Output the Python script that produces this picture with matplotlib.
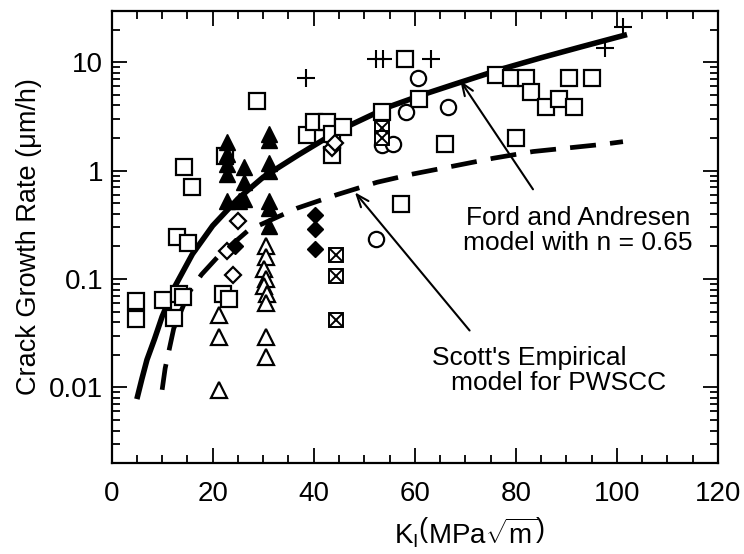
import matplotlib
matplotlib.use('Agg')
import matplotlib.pyplot as plt
from matplotlib.ticker import MultipleLocator, LogLocator, FixedLocator, NullFormatter

plt.rcParams['font.family'] = ['Liberation Sans', 'DejaVu Sans']
plt.rcParams['mathtext.fontset'] = 'custom'
plt.rcParams['mathtext.rm'] = 'Liberation Sans'
plt.rcParams['mathtext.it'] = 'Liberation Sans:italic'

# data: K_I (MPa sqrt m), crack growth rate (um/h)
sq_x = [4.9, 4.9, 10.2, 12.4, 13.3, 14.2, 13.0, 15.2, 14.4, 15.9, 22.1, 23.3, 22.5,
        28.7, 38.7, 40.1, 42.7, 43.7, 43.7, 45.7, 53.5, 57.2, 58.1, 60.8, 66.0,
        80.0, 76.0, 79.0, 82.0, 83.0, 86.0, 88.5, 91.5, 90.5, 95.1]
sq_y = [0.063, 0.043, 0.064, 0.044, 0.072, 0.068, 0.244, 0.216, 1.07, 0.71, 0.072, 0.065, 1.37,
        4.4, 2.15, 2.78, 2.79, 2.17, 1.39, 2.5, 3.5, 0.49, 10.7, 4.6, 1.75,
        2.0, 7.7, 7.1, 7.1, 5.3, 3.9, 4.6, 3.9, 7.1, 7.1]

ftri_x = [22.8, 22.8, 22.8, 22.8, 22.8, 25.3, 26.3, 26.3, 26.3,
          31.2, 31.2, 31.2, 31.2, 31.2, 31.2, 31.2]
ftri_y = [1.84, 1.43, 1.15, 0.93, 0.52, 0.52, 1.09, 0.79, 0.55,
          2.2, 1.9, 1.17, 1.0, 0.52, 0.45, 0.31]

otri_x = [21.2, 21.2, 21.2, 30.6, 30.6, 30.2, 30.6, 30.2, 30.8, 30.6, 30.6, 30.6]
otri_y = [0.047, 0.029, 0.0095, 0.2, 0.16, 0.125, 0.10, 0.087, 0.072, 0.06, 0.029, 0.019]

odia_x = [25.1, 22.9, 24.0, 43.6, 44.3]
odia_y = [0.34, 0.18, 0.11, 1.6, 1.8]

fdia_x = [40.3, 40.3, 40.3, 24.4]
fdia_y = [0.39, 0.29, 0.19, 0.2]

circ_x = [60.7, 58.2, 66.5, 53.5, 55.7, 52.3]
circ_y = [7.2, 3.47, 3.9, 1.74, 1.75, 0.235]

xsq_x = [53.6, 53.6, 44.4, 44.4, 44.4]
xsq_y = [2.45, 2.0, 0.168, 0.107, 0.042]

plus_x = [38.5, 52.4, 53.8, 63.3, 101.2, 97.6]
plus_y = [7.1, 10.7, 10.7, 10.6, 21.0, 13.6]

# model curves, points
ford_x = [5, 6, 7, 8.5, 10, 12.5, 16, 20, 25, 30, 37, 45, 55, 62, 68, 77, 85, 93, 102]
ford_y = [0.0078, 0.012, 0.018, 0.028, 0.045, 0.085, 0.17, 0.31, 0.55, 0.87, 1.4, 2.35, 3.9,
          5.1, 6.3, 8.6, 11.0, 13.9, 18.0]

scott_x = [10, 10.6, 12.3, 15.3, 17.8, 21, 27, 29, 36.7, 44.6, 52.5, 59.6, 67.6, 75.5, 83.4, 97.3, 101.2]
scott_y = [0.0095, 0.015, 0.035, 0.075, 0.11, 0.16, 0.28, 0.31, 0.45, 0.6, 0.78, 0.93, 1.1, 1.3, 1.5, 1.75, 1.85]

fig = plt.figure(figsize=(7.44, 5.54), dpi=100)
ax = fig.add_axes([0.150, 0.164, 0.815, 0.817])

ax.plot(ford_x, ford_y, color='black', lw=4.0, solid_capstyle='butt', zorder=3)
ax.plot(scott_x, scott_y, color='black', lw=3.4, dashes=(5.5, 3), zorder=3)

mk = dict(linestyle='none', color='black', zorder=4)
ax.plot(sq_x, sq_y, marker='s', ms=11, mfc='white', mew=1.6, **mk)
ax.plot(circ_x, circ_y, marker='o', ms=11, mfc='white', mew=1.6, **mk)
ax.plot(otri_x, otri_y, marker='^', ms=11, mfc='white', mew=1.6, **mk)
ax.plot(ftri_x, ftri_y, marker='^', ms=12, mfc='black', mew=1.0, **mk)
ax.plot(odia_x, odia_y, marker='D', ms=8, mfc='white', mew=1.6, **mk)
ax.plot(fdia_x, fdia_y, marker='D', ms=8, mfc='black', mew=1.0, **mk)
ax.plot(xsq_x, xsq_y, marker='s', ms=10, mfc='white', mew=1.4, **mk)
ax.plot(xsq_x, xsq_y, marker='x', ms=8, mew=1.4, **mk)
ax.plot(plus_x, plus_y, marker='+', ms=13, mew=1.5, **mk)

ax.set_yscale('log')
ax.set_xlim(0, 120)
ax.set_ylim(0.002, 30)

ax.xaxis.set_major_locator(MultipleLocator(20))
ax.xaxis.set_minor_locator(MultipleLocator(5))
ax.yaxis.set_major_locator(FixedLocator([0.01, 0.1, 1, 10]))
ax.yaxis.set_minor_locator(LogLocator(base=10, subs=range(2, 10)))
ax.yaxis.set_minor_formatter(NullFormatter())
ax.set_yticklabels(['0.01', '0.1', '1', '10'])

ax.tick_params(which='both', direction='in', top=True, right=True, width=1.3, labelsize=20)
ax.tick_params(which='major', length=11)
ax.tick_params(which='minor', length=5.5)
ax.tick_params(axis='x', pad=13)
ax.tick_params(axis='y', pad=6)
for s in ax.spines.values():
    s.set_linewidth(1.6)

ax.set_ylabel('Crack Growth Rate (μm/h)', fontsize=19.5, labelpad=5)
ax.set_xlabel(r'K$_\mathregular{I}$$\left(\mathregular{MPa}\sqrt{\mathregular{m}}\right)$',
              fontsize=20)
ax.xaxis.set_label_coords(0.59, -0.115)

ax.annotate('', xy=(68.7, 7.1), xytext=(83.7, 0.64),
            arrowprops=dict(arrowstyle='->,head_length=0.9,head_width=0.35', lw=1.5, color='black'))
ax.annotate('', xy=(47.8, 0.66), xytext=(71.2, 0.032),
            arrowprops=dict(arrowstyle='->,head_length=0.9,head_width=0.35', lw=1.5, color='black'))

ax.text(92.3, 0.28, 'Ford and Andresen\nmodel with n = 0.65', ha='center', va='center',
        fontsize=19, linespacing=1.05)
ax.text(82.6, 0.0187, "Scott's Empirical", ha='center', va='center', fontsize=19)
ax.text(88.4, 0.011, 'model for PWSCC', ha='center', va='center', fontsize=19)

fig.savefig('out.png', dpi=100)
